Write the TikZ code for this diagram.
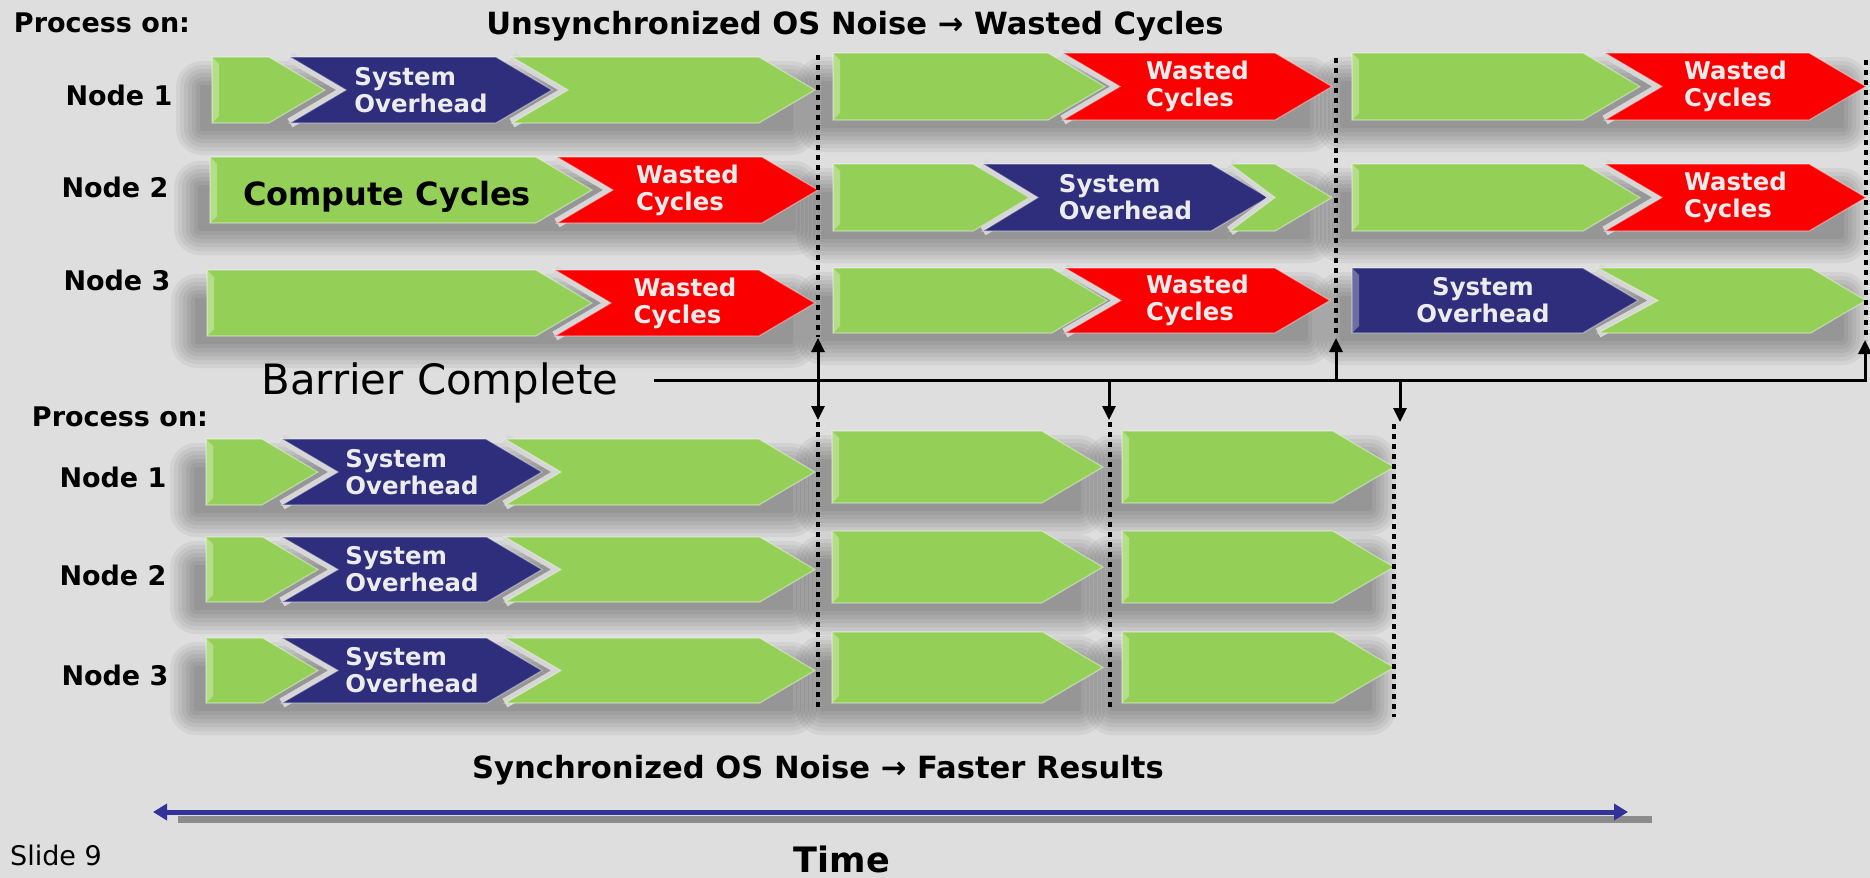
\documentclass[tikz,border=0pt]{standalone}
\usepackage{fontspec}
\setmainfont{DejaVu Sans}
\usetikzlibrary{arrows.meta}
\usepackage{xcolor}
\definecolor{slidebg}{RGB}{222,222,222}
\definecolor{gapgray}{RGB}{214,214,214}
\definecolor{cgreen}{RGB}{148,208,88}
\definecolor{cred}{RGB}{250,0,0}
\definecolor{cblue}{RGB}{46,46,124}
\definecolor{segfont}{RGB}{236,236,236}
\definecolor{axisblue}{RGB}{50,50,155}
\definecolor{axisgray}{RGB}{140,140,140}
\pgfdeclarelayer{bg}
\pgfdeclarelayer{shade}
\pgfsetlayers{bg,shade,main}

% one chevron of a time line: [node opts]{name}{colour}{left}{tip}{top}{bottom}{notch}{text}
\newcommand{\chevseg}[9][]{%
  \pgfmathsetmacro{\segdepth}{0.85*(#7-#6)}%
  \pgfmathsetmacro{\segmid}{(#6+#7)/2}%
  \ifdim #8pt>0pt
    \draw[gapgray, line width=5pt] (#4,#6) -- ({#4+#8},\segmid) -- (#4,#7);
  \fi
  \fill[#3, draw=white, draw opacity=.4, line width=.6pt] (#4,#6) -- ({#5-\segdepth},#6) -- (#5,\segmid) -- ({#5-\segdepth},#7) -- (#4,#7) -- ({#4+#8},\segmid) -- cycle;
  \ifdim #8pt=0pt
    \fill[white, opacity=.3] (#4,#6) -- ({#4+7},{#6+7}) -- ({#4+7},{#7-7}) -- (#4,#7) -- cycle;
  \fi
  \node[segtext,#1] (#2) at ({(#4+#5)/2},\segmid) {#9};
}
% soft shadow under one row of chevrons: {left}{right}{top}{bottom}
\newcommand{\rowshade}[4]{%
  \begin{pgfonlayer}{shade}
    \foreach \e in {0,4,...,24}
      \fill[black, opacity=.05, rounded corners={(\e+2)*0.5pt}] ({#1-12-\e},{#3+28-\e}) rectangle ({#2-22+\e},{#4+8+\e});
  \end{pgfonlayer}
}

\begin{document}
\begin{tikzpicture}[x=0.5pt, y=-0.5pt,
  segtext/.style={font=\bfseries\fontsize{12.2}{13.5}\selectfont, text=segfont, align=left, inner sep=0pt},
  lbl/.style={font=\bfseries\fontsize{13.5}{16}\selectfont},
  ttl/.style={font=\bfseries\fontsize{15.3}{18}\selectfont},
  barrierdots/.style={line width=2pt, dash pattern=on 2.5pt off 2.5pt},
  barline/.style={line width=1.5pt},
  barrow/.style={-{Triangle[length=7pt,width=6.5pt]}}]
  \useasboundingbox (0,0) rectangle (1870,878);
  \begin{pgfonlayer}{bg}
    \fill[slidebg] (0,0) rectangle (1870,878);
  \end{pgfonlayer}

  % unsynchronized noise
  \node[lbl] (proc1) at (102,23) {Process on:};
  \node[ttl] (title1) at (855,26) {Unsynchronized OS Noise → Wasted Cycles};
  \node[lbl] (n1a) at (119,95) {Node 1};
  \node[lbl] (n2a) at (115,187) {Node 2};
  \node[lbl] (n3a) at (117,280) {Node 3};

  \rowshade{212}{815}{57}{123}
  \rowshade{210}{818}{157}{223}
  \rowshade{207}{815}{270}{336}
  \rowshade{833}{1332}{53}{120}
  \rowshade{833}{1332}{164}{231}
  \rowshade{833}{1330}{268}{333}
  \rowshade{1352}{1866}{53}{120}
  \rowshade{1352}{1866}{164}{231}
  \rowshade{1352}{1866}{268}{333}

  \chevseg{t11a}{cgreen}{212}{325}{57}{123}{0}{}
  \chevseg{t11b}{cblue}{290}{552}{57}{123}{56}{System\\Overhead}
  \chevseg{t11c}{cgreen}{512}{815}{57}{123}{56}{}
  \chevseg[font=\bfseries\fontsize{16}{18}\selectfont, text=black, xshift=-7pt, yshift=-3.5pt]{t21a}{cgreen}{210}{592}{157}{223}{0}{Compute Cycles}
  \chevseg{t21b}{cred}{557}{818}{157}{223}{56}{Wasted\\Cycles}
  \chevseg{t31a}{cgreen}{207}{592}{270}{336}{0}{}
  \chevseg{t31b}{cred}{555}{815}{270}{336}{56}{Wasted\\Cycles}

  \chevseg{t12a}{cgreen}{833}{1105}{53}{120}{0}{}
  \chevseg{t12b}{cred}{1063}{1332}{53}{120}{57}{Wasted\\Cycles}
  \chevseg{t22a}{cgreen}{833}{1030}{164}{231}{0}{}
  \chevseg{t22b}{cblue}{983}{1268}{164}{231}{55}{System\\Overhead}
  \chevseg{t22c}{cgreen}{1230}{1332}{164}{231}{45}{}
  \chevseg{t32a}{cgreen}{833}{1107}{268}{333}{0}{}
  \chevseg{t32b}{cred}{1065}{1330}{268}{333}{56}{Wasted\\Cycles}

  \chevseg{t13a}{cgreen}{1352}{1640}{53}{120}{0}{}
  \chevseg{t13b}{cred}{1605}{1866}{53}{120}{57}{Wasted\\Cycles}
  \chevseg{t23a}{cgreen}{1352}{1640}{164}{231}{0}{}
  \chevseg{t23b}{cred}{1605}{1866}{164}{231}{57}{Wasted\\Cycles}
  \chevseg[align=center, xshift=-6pt]{t33a}{cblue}{1352}{1638}{268}{333}{0}{System\\Overhead}
  \chevseg{t33b}{cgreen}{1598}{1866}{268}{333}{60}{}

  \draw[barrierdots] (818,55) -- (818,337);
  \draw[barrierdots] (1336,58) -- (1336,337);
  \draw[barrierdots] (1866,60) -- (1866,340);

  % barrier
  \node[font=\fontsize{20.9}{24}\selectfont] (barrier) at (440,383) {Barrier Complete};
  \coordinate (barL) at (654,380);
  \coordinate (barR) at (1865,380);
  \coordinate (upR) at (1865,340);
  \coordinate (a1u) at (818,338);
  \coordinate (a1d) at (818,420);
  \coordinate (a2j) at (1336,380);
  \coordinate (a2u) at (1336,338);
  \coordinate (a3j) at (1109,380);
  \coordinate (a3d) at (1109,420);
  \coordinate (a4j) at (1400,380);
  \coordinate (a4d) at (1400,422);
  \draw[barline, barrow] (barL) -- (barR) -- (upR);
  \draw[barline, {Triangle[length=7pt,width=6.5pt]}-{Triangle[length=7pt,width=6.5pt]}] (a1u) -- (a1d);
  \draw[barline, barrow] (a2j) -- (a2u);
  \draw[barline, barrow] (a3j) -- (a3d);
  \draw[barline, barrow] (a4j) -- (a4d);

  % synchronized noise
  \node[lbl] (proc2) at (120,417) {Process on:};
  \node[lbl] (n1b) at (113,477) {Node 1};
  \node[lbl] (n2b) at (113,575) {Node 2};
  \node[lbl] (n3b) at (115,675) {Node 3};

  \rowshade{206}{815}{439}{505}
  \rowshade{206}{815}{537}{602}
  \rowshade{206}{815}{638}{703}
  \rowshade{832}{1103}{431}{503}
  \rowshade{832}{1103}{531}{603}
  \rowshade{832}{1103}{632}{703}
  \rowshade{1122}{1394}{431}{503}
  \rowshade{1122}{1394}{531}{603}
  \rowshade{1122}{1394}{632}{703}

  \chevseg{b11a}{cgreen}{206}{318}{439}{505}{0}{}
  \chevseg{b11b}{cblue}{282}{542}{439}{505}{56}{System\\Overhead}
  \chevseg{b11c}{cgreen}{505}{815}{439}{505}{56}{}
  \chevseg{b21a}{cgreen}{206}{318}{537}{602}{0}{}
  \chevseg{b21b}{cblue}{282}{542}{537}{602}{56}{System\\Overhead}
  \chevseg{b21c}{cgreen}{505}{815}{537}{602}{56}{}
  \chevseg{b31a}{cgreen}{206}{318}{638}{703}{0}{}
  \chevseg{b31b}{cblue}{282}{542}{638}{703}{56}{System\\Overhead}
  \chevseg{b31c}{cgreen}{505}{815}{638}{703}{56}{}

  \chevseg{b12}{cgreen}{832}{1103}{431}{503}{0}{}
  \chevseg{b22}{cgreen}{832}{1103}{531}{603}{0}{}
  \chevseg{b32}{cgreen}{832}{1103}{632}{703}{0}{}
  \chevseg{b13}{cgreen}{1122}{1394}{431}{503}{0}{}
  \chevseg{b23}{cgreen}{1122}{1394}{531}{603}{0}{}
  \chevseg{b33}{cgreen}{1122}{1394}{632}{703}{0}{}

  \draw[barrierdots] (818,422) -- (818,710);
  \draw[barrierdots] (1110,422) -- (1110,708);
  \draw[barrierdots] (1394,424) -- (1394,717);

  \node[ttl] (title2) at (818,770) {Synchronized OS Noise → Faster Results};

  % time axis
  \coordinate (tl1) at (153,812);
  \coordinate (tl2) at (1628,812);
  \coordinate (tls1) at (178,819);
  \coordinate (tls2) at (1652,819);
  \draw[axisgray, line width=3.5pt] (tls1) -- (tls2);
  \draw[axisblue, line width=2.5pt, {Triangle[length=7pt,width=8pt]}-{Triangle[length=7pt,width=8pt]}] (tl1) -- (tl2);
  \node[font=\fontsize{13.5}{16}\selectfont] (slide) at (56,855) {Slide 9};
  \node[font=\bfseries\fontsize{17.5}{20}\selectfont, anchor=base, inner sep=0pt] (time) at (842,872) {Time};
\end{tikzpicture}
\end{document}
